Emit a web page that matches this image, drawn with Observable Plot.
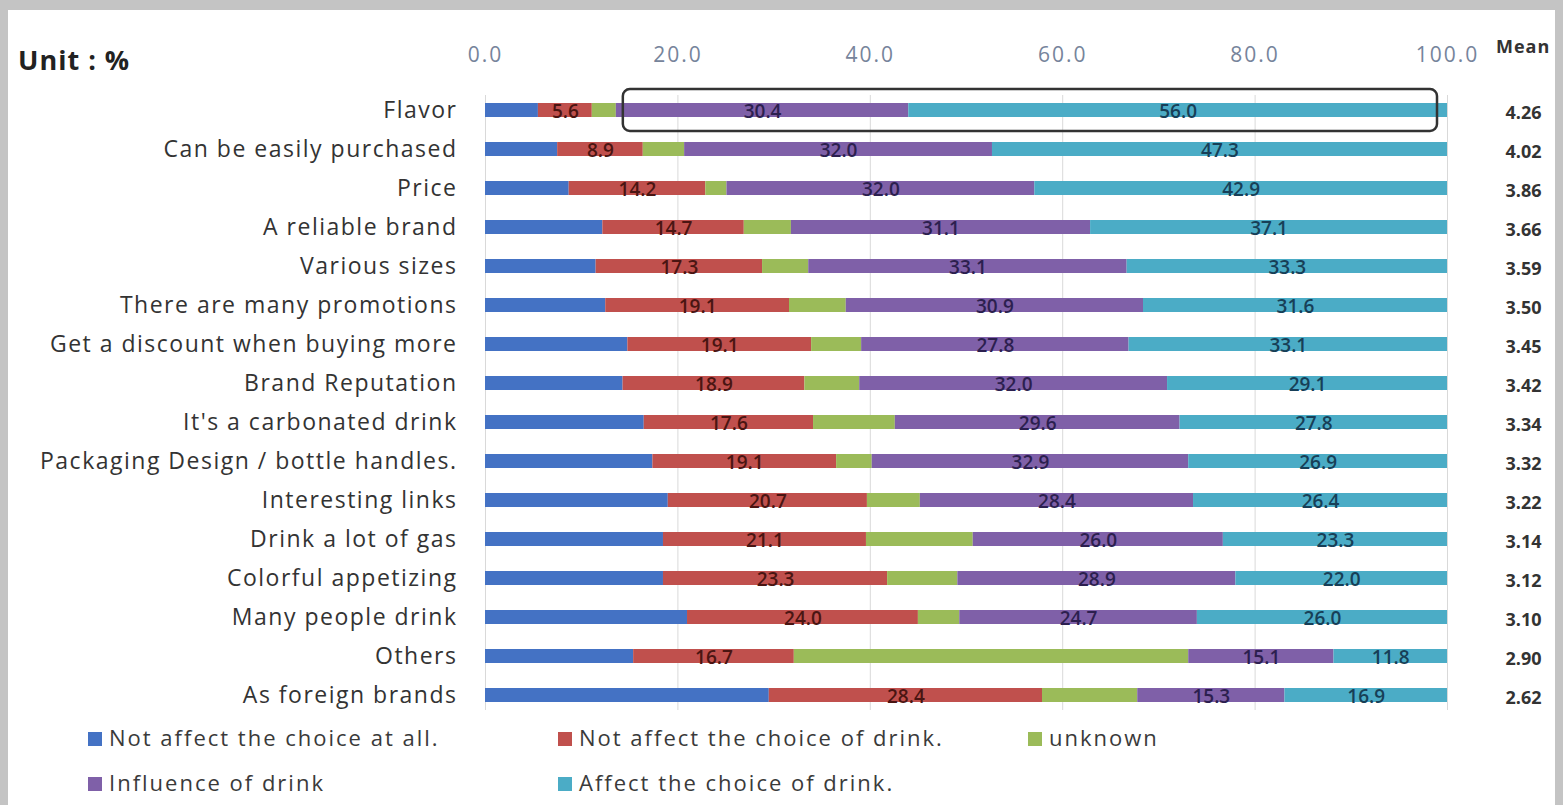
<!DOCTYPE html>
<html>
<head>
<meta charset="utf-8">
<script src="https://cdn.jsdelivr.net/npm/d3@7"></script>
<script src="https://cdn.jsdelivr.net/npm/@observablehq/plot@0.6"></script>
<style>
  html, body { margin: 0; padding: 0; }
  body { width: 1563px; height: 805px; background: #c4c4c4; position: relative; overflow: hidden; font-family: "Open Sans", "Noto Sans", sans-serif; }
  #panel { position: absolute; left: 8px; top: 10px; width: 1547px; height: 795px; background: #ffffff; }
  #chart { position: absolute; left: 0; top: 0; }
  #unit { position: absolute; left: 18px; top: 41px; font-size: 27px; font-weight: bold; color: #222; letter-spacing: 1px; }
  #meanHead { position: absolute; left: 1496px; top: 34px; font-size: 18px; font-weight: bold; color: #333; letter-spacing: 1px; }
  #legend { position: absolute; left: 0; top: 720px; width: 1563px; height: 85px; }
  .li { position: absolute; font-size: 22px; color: #3a3a3a; white-space: nowrap; line-height: 26px; letter-spacing: 2px; }
  .sw { display: inline-block; width: 14px; height: 14px; margin-right: 7px; vertical-align: 0px; }
  svg text { letter-spacing: 0; }
  .ylab text { letter-spacing: 1.5px; }
  .xlab text { letter-spacing: 2px; }
  .seg { letter-spacing: 1.5px; }
</style>
</head>
<body>
<div id="panel"></div>
<div id="chart"></div>
<div id="unit">Unit : %</div>
<div id="meanHead">Mean</div>
<div id="legend"></div>
<script>
const categories = ["Flavor", "Can be easily purchased", "Price", "A reliable brand", "Various sizes",
  "There are many promotions", "Get a discount when buying more", "Brand Reputation",
  "It's a carbonated drink", "Packaging Design / bottle handles.", "Interesting links",
  "Drink a lot of gas", "Colorful appetizing", "Many people drink", "Others", "As foreign brands"];

const seriesNames = ["Not affect the choice at all.", "Not affect the choice of drink.", "unknown",
  "Influence of drink", "Affect the choice of drink."];
const seriesColors = ["#4472c4", "#c0504d", "#9bbb59", "#7f60a8", "#4bacc6"];
const labelColors = [null, "#4a1512", null, "#2c1f4f", "#173f57"];

const notAtAll  = [5.5, 7.5, 8.7, 12.2, 11.5, 12.5, 14.8, 14.3, 16.5, 17.4, 19.0, 18.5, 18.5, 21.0, 15.4, 29.5];
const notChoice = [5.6, 8.9, 14.2, 14.7, 17.3, 19.1, 19.1, 18.9, 17.6, 19.1, 20.7, 21.1, 23.3, 24.0, 16.7, 28.4];
const unknown   = [2.5, 4.3, 2.2, 4.9, 4.8, 5.9, 5.2, 5.7, 8.5, 3.7, 5.5, 11.1, 7.3, 4.3, 41.0, 9.9];
const influence = [30.4, 32.0, 32.0, 31.1, 33.1, 30.9, 27.8, 32.0, 29.6, 32.9, 28.4, 26.0, 28.9, 24.7, 15.1, 15.3];
const affect    = [56.0, 47.3, 42.9, 37.1, 33.3, 31.6, 33.1, 29.1, 27.8, 26.9, 26.4, 23.3, 22.0, 26.0, 11.8, 16.9];
const means     = [4.26, 4.02, 3.86, 3.66, 3.59, 3.50, 3.45, 3.42, 3.34, 3.32, 3.22, 3.14, 3.12, 3.10, 2.90, 2.62];

const xTicks = [0, 20, 40, 60, 80, 100];

const seriesValues = [notAtAll, notChoice, unknown, influence, affect];
const table = [];
categories.forEach((c, i) => {
  seriesValues.forEach((vals, s) => {
    table.push({category: c, series: seriesNames[s], value: vals[i]});
  });
});
const meanRows = categories.map((c, i) => ({category: c, mean: means[i]}));
const highlight = [{category: categories[0], x1: notAtAll[0] + notChoice[0] + unknown[0], x2: 100}];

const font = "'Open Sans', 'Noto Sans', sans-serif";

const labelMarks = seriesNames.map((s, k) => labelColors[k] ? Plot.text(table, Plot.stackX({
  x: "value", y: "category", z: "series", order: seriesNames,
  text: d => d.series === s ? d.value.toFixed(1) : null,
  fill: labelColors[k], fontSize: 19, fontWeight: 600, dy: 1, className: "seg"
})) : null).filter(Boolean);

const chart = Plot.plot({
  width: 1563,
  height: 720,
  marginLeft: 485,
  marginRight: 116,
  marginTop: 95,
  marginBottom: 10,
  style: {fontFamily: font, background: "transparent"},
  x: {domain: [0, 100]},
  y: {domain: categories, paddingInner: 0.64, paddingOuter: 0.14},
  color: {domain: seriesNames, range: seriesColors},
  marks: [
    Plot.gridX(xTicks, {stroke: "#d9d9d9", strokeOpacity: 1, strokeWidth: 1}),
    Plot.axisX({anchor: "top", ticks: xTicks, tickFormat: d => d.toFixed(1), tickSize: 0, tickPadding: 34,
      fontSize: 21, color: "#76849b", label: null, className: "xlab"}),
    Plot.axisY({tickSize: 0, tickPadding: 28, fontSize: 23, color: "#333", label: null, className: "ylab"}),
    Plot.barX(table, Plot.stackX({x: "value", y: "category", fill: "series", z: "series", order: seriesNames})),
    ...labelMarks,
    Plot.barX(highlight, {x1: "x1", x2: "x2", y: "category", fill: "none", stroke: "#333", strokeWidth: 2.5,
      insetTop: -14, insetBottom: -14, insetLeft: 7, insetRight: 10, rx: 7}),
    Plot.text(meanRows, {y: "category", text: d => d.mean.toFixed(2), frameAnchor: "right", dx: 76, dy: 3,
      textAnchor: "middle", fontSize: 18, fontWeight: "bold", fill: "#333"})
  ]
});
document.getElementById("chart").appendChild(chart);

// legend below the svg
const legend = document.getElementById("legend");
const pos = [[88, 4], [558, 4], [1028, 4], [88, 49], [558, 49]];
seriesNames.forEach((s, k) => {
  const el = document.createElement("div");
  el.className = "li";
  el.style.left = pos[k][0] + "px";
  el.style.top = pos[k][1] + "px";
  el.innerHTML = `<span class="sw" style="background:${seriesColors[k]}"></span>${s}`;
  legend.appendChild(el);
});
</script>
</body>
</html>
